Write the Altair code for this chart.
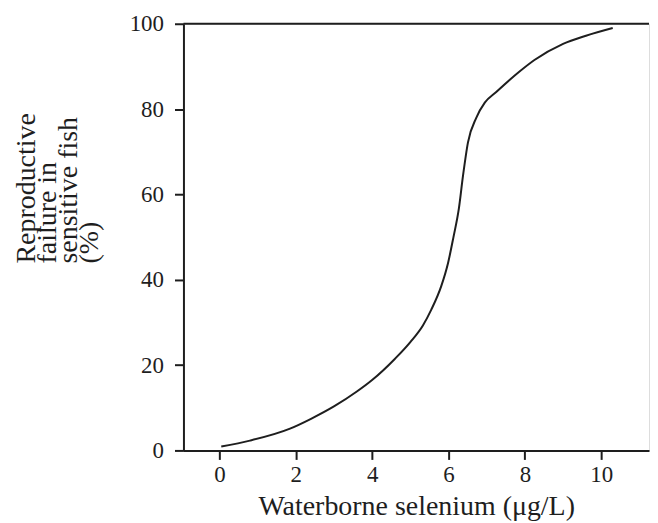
import altair as alt
import pandas as pd

# Values
selenium = [0.05, 0.8, 1.85, 2.4, 3.0, 3.6, 4.0, 4.6, 5.0, 5.33, 5.55, 5.81, 5.99,
            6.13, 6.27, 6.38, 6.51, 6.73, 6.95, 7.25, 7.86, 8.25, 9.0, 9.6, 10.3]
failure = [0.9, 2.3, 5.1, 7.4, 10.3, 13.8, 16.5, 21.5, 25.4, 29.3, 33.0, 38.5, 44.0,
           50.0, 56.6, 64.4, 72.2, 78.0, 81.5, 84.0, 88.8, 91.5, 95.3, 97.2, 99.0]
x_ticks = [0, 2, 4, 6, 8, 10]
y_ticks = [0, 20, 40, 60, 80, 100]
top_line = [100]

df = pd.DataFrame({"x": selenium, "y": failure})
top_df = pd.DataFrame({"y": top_line})

FONT = "Liberation Serif"
INK = "#1e1e1e"

x_scale = alt.Scale(domain=[-0.94, 11.25], nice=False, zero=False)
y_scale = alt.Scale(domain=[0, 100], nice=False)

curve = alt.Chart(df).mark_line(
    color=INK, strokeWidth=2, interpolate="monotone"
).encode(
    x=alt.X("x:Q", scale=x_scale,
            axis=alt.Axis(values=x_ticks, title="Waterborne selenium (μg/L)",
                          grid=False, domainColor=INK, domainWidth=2,
                          tickColor=INK, tickWidth=2, tickSize=9,
                          labelPadding=4, labelFont=FONT, labelFontSize=23,
                          labelColor=INK, titleFont=FONT, titleFontSize=28,
                          titleFontWeight="normal", titleColor=INK,
                          titlePadding=6)),
    y=alt.Y("y:Q", scale=y_scale,
            axis=alt.Axis(values=y_ticks,
                          title=["Reproductive", "failure in", "sensitive fish", "(%)"],
                          grid=False, domainColor=INK, domainWidth=2,
                          tickColor=INK, tickWidth=2, tickSize=9,
                          labelPadding=11, labelFont=FONT, labelFontSize=23,
                          labelColor=INK, titleFont=FONT, titleFontSize=28,
                          titleFontWeight="normal", titleColor=INK,
                          titleAlign="left", titleY=240,
                          titleLineHeight=21, titlePadding=26)),
)

top = alt.Chart(top_df).mark_rule(color=INK, strokeWidth=2).encode(
    y=alt.Y("y:Q", scale=y_scale)
)

chart = alt.layer(curve, top).properties(
    width=467, height=428,
    padding={"left": 4, "top": 4, "right": 0, "bottom": 0},
).configure_view(stroke=None).configure(background="white")

chart.save("out.html", embed_options={"renderer": "svg", "actions": False})
